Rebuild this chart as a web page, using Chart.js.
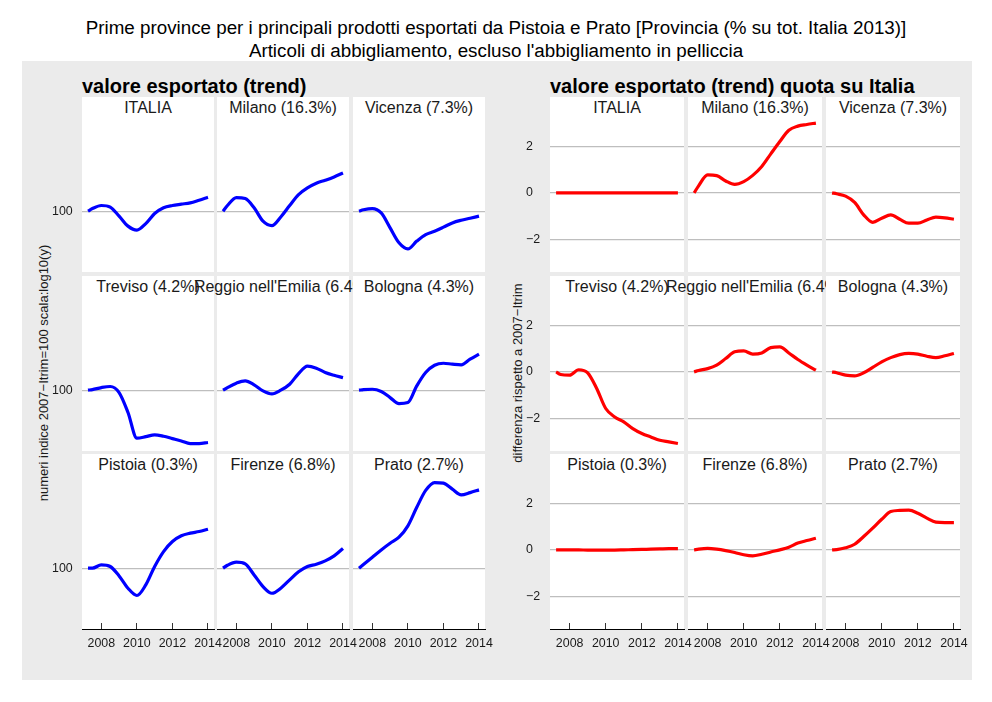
<!DOCTYPE html>
<html><head><meta charset="utf-8">
<script src="https://cdn.jsdelivr.net/npm/chart.js@4.4.1/dist/chart.umd.min.js"></script>
<style>
html,body{margin:0;padding:0;background:#fff;}
#root{position:relative;width:992px;height:702px;overflow:hidden;font-family:"Liberation Sans",Arial,Helvetica,sans-serif;color:#000;}
.bg{position:absolute;left:22px;top:61px;width:950px;height:619px;background:#EBEBEB;}
.title{position:absolute;left:0;width:992px;text-align:center;font-size:18.8px;line-height:19px;white-space:nowrap;}
.sub{position:absolute;font-size:20px;font-weight:bold;line-height:20px;white-space:nowrap;}
.panel{position:absolute;background:#fff;}
.strip{position:absolute;top:3px;left:50%;transform:translateX(-50%);font-size:16px;line-height:16px;white-space:nowrap;color:#1a1a1a;}
.ytitle{position:absolute;font-size:13px;line-height:13px;white-space:nowrap;transform:translate(-50%,-50%) rotate(-90deg);color:#1a1a1a;}
canvas{position:absolute;}
</style></head>
<body><div id="root">
<div class="bg"></div>
<div class="title" style="top:18px">Prime province per i principali prodotti esportati da Pistoia e Prato [Provincia (% su tot. Italia 2013)]</div>
<div class="title" style="top:41px">Articoli di abbigliamento, escluso l'abbigliamento in pelliccia</div>
<div class="sub" style="left:82px;top:76px">valore esportato (trend)</div>
<div class="sub" style="left:550px;top:76px">valore esportato (trend) quota su Italia</div>
<div class="ytitle" style="left:43px;top:373px">numeri indice 2007−Itrim=100 scala:log10(y)</div>
<div class="ytitle" style="left:517px;top:373px">differenza rispetto a 2007−Itrim</div>
</div>
<script>
// ---- data ----
const years = [2007.25, 2007.5, 2008, 2008.5, 2009, 2009.5, 2010, 2010.5, 2011, 2011.5, 2012, 2012.5, 2013, 2013.5, 2014];
const provinces = ["ITALIA", "Milano (16.3%)", "Vicenza (7.3%)", "Treviso (4.2%)", "Reggio nell'Emilia (6.4%)", "Bologna (4.3%)", "Pistoia (0.3%)", "Firenze (6.8%)", "Prato (2.7%)"];
const tickYears = [2008, 2010, 2012, 2014];
const indexTicks = [100];
const diffTicks = [-2, 0, 2];

// valore esportato (trend), numeri indice 2007-Itrim=100
const idxItalia  = [100, 101.7, 103.7, 102.6, 96.9, 90.9, 88.6, 92.4, 98.5, 102.2, 103.7, 104.6, 105.5, 107.3, 109.3];
const idxMilano  = [100, 103.7, 109.1, 108.4, 102.2, 93.8, 91.2, 96.4, 103.7, 111.2, 116.1, 119.6, 121.9, 124.5, 127.7];
const idxVicenza = [100, 100.9, 101.7, 98.9, 89.9, 81.7, 78.6, 82.6, 86.1, 88.0, 90.3, 92.8, 94.4, 95.6, 96.9];
const idxTreviso = [100, 100.4, 101.7, 102.4, 98.5, 86.7, 73.6, 74.3, 75.2, 74.5, 73.4, 72.3, 71.1, 71.1, 71.6];
const idxReggio  = [100, 101.7, 104.6, 106.1, 103.5, 99.6, 97.7, 100, 103.9, 111.2, 116.6, 115.1, 112.0, 110.0, 108.4];
const idxBologna = [100, 100.4, 100.6, 99.2, 95.4, 91.8, 92.4, 102.8, 112.0, 117.3, 118.8, 118.1, 117.6, 121.9, 125.9];
const idxPistoia = [100, 100, 102.2, 101.1, 95.2, 88.0, 84.0, 89.9, 101.1, 111.2, 118.6, 123.0, 125.1, 126.4, 128.3];
const idxFirenze = [100, 101.9, 103.9, 102.8, 95.8, 88.9, 85.2, 88.0, 92.8, 97.7, 101.1, 102.6, 104.8, 108.2, 113.4];
const idxPrato   = [100, 102.4, 107.3, 112.4, 117.3, 121.9, 131.1, 147.6, 164.4, 172.9, 172.2, 165.8, 159.8, 162.1, 165.0];

// quota su Italia, differenza rispetto a 2007-Itrim
const diffItalia  = [0, 0, 0, 0, 0, 0, 0, 0, 0, 0, 0, 0, 0, 0, 0];
const diffMilano  = [0, 0.30, 0.77, 0.74, 0.51, 0.36, 0.48, 0.75, 1.13, 1.67, 2.20, 2.68, 2.86, 2.93, 2.99];
const diffVicenza = [0, -0.04, -0.14, -0.41, -0.94, -1.26, -1.09, -0.94, -1.13, -1.30, -1.30, -1.16, -1.04, -1.07, -1.13];
const diffTreviso = [0, -0.11, -0.14, 0.09, -0.04, -0.71, -1.57, -1.93, -2.14, -2.43, -2.64, -2.79, -2.93, -3.0, -3.07];
const diffReggio  = [0, 0.06, 0.14, 0.29, 0.57, 0.86, 0.90, 0.76, 0.81, 1.04, 1.07, 0.81, 0.53, 0.29, 0.07];
const diffBologna = [0, -0.04, -0.14, -0.17, -0.04, 0.19, 0.43, 0.61, 0.74, 0.79, 0.76, 0.67, 0.61, 0.69, 0.79];
const diffPistoia = [0, 0, 0, 0, -0.01, -0.01, -0.01, -0.01, 0, 0.01, 0.02, 0.03, 0.04, 0.05, 0.05];
const diffFirenze = [0, 0.03, 0.06, 0.03, -0.03, -0.11, -0.21, -0.26, -0.19, -0.09, 0, 0.11, 0.29, 0.40, 0.50];
const diffPrato   = [0, 0.01, 0.09, 0.24, 0.57, 0.93, 1.31, 1.64, 1.69, 1.70, 1.57, 1.36, 1.19, 1.17, 1.17];

const indexSeries = [idxItalia, idxMilano, idxVicenza, idxTreviso, idxReggio, idxBologna, idxPistoia, idxFirenze, idxPrato];
const diffSeries  = [diffItalia, diffMilano, diffVicenza, diffTreviso, diffReggio, diffBologna, diffPistoia, diffFirenze, diffPrato];

// ---- layout ----
const FONT = '"Liberation Sans", Arial, Helvetica, sans-serif';
const xMin = 2006.9125, xMax = 2014.3375;
const rowTops = [117, 296, 474];
const DATA_H = 155, STRIP_H = 20, PADT = 12, PADR = 26, AXIS_H = 34;
const groups = [
  { series: indexSeries, lefts: [82, 217, 353], w: 132, W: 30, color: '#0000FF', type: 'logarithmic', min: 67.8, max: 182.6, ticks: indexTicks,
    fmt: v => String(v) },
  { series: diffSeries, lefts: [550, 688, 826], w: 134, W: 24, color: '#FF0000', type: 'linear', min: -3.39, max: 3.25, ticks: diffTicks,
    fmt: v => (v < 0 ? '\u2212' + Math.abs(v) : String(v)) }
];

const root = document.getElementById('root');

// panels + strips
groups.forEach(g => {
  for (let k = 0; k < 9; k++) {
    const r = Math.floor(k / 3), c = k % 3;
    const p = document.createElement('div');
    p.className = 'panel';
    p.style.left = g.lefts[c] + 'px';
    p.style.top = (rowTops[r] - STRIP_H) + 'px';
    p.style.width = g.w + 'px';
    p.style.height = (DATA_H + STRIP_H) + 'px';
    const s = document.createElement('div');
    s.className = 'strip';
    s.textContent = provinces[k];
    p.appendChild(s);
    root.appendChild(p);
  }
});

// charts
groups.forEach(g => {
  for (let k = 0; k < 9; k++) {
    const r = Math.floor(k / 3), c = k % 3;
    const cv = document.createElement('canvas');
    const last = r === 2;
    const bottomPad = last ? 0 : PADT;
    const cw = g.W + g.w + PADR, ch = PADT + DATA_H + (last ? AXIS_H : PADT);
    cv.width = cw; cv.height = ch;
    cv.style.width = cw + 'px'; cv.style.height = ch + 'px';
    cv.style.left = (g.lefts[c] - g.W) + 'px';
    cv.style.top = (rowTops[r] - PADT) + 'px';
    root.appendChild(cv);
    const vals = g.series[k];
    new Chart(cv, {
      type: 'line',
      data: { datasets: [{
        data: years.map((x, i) => ({ x: x, y: vals[i] })),
        borderColor: g.color, borderWidth: 3.2, pointRadius: 0, fill: false,
        cubicInterpolationMode: 'monotone', borderCapStyle: 'butt'
      }] },
      options: {
        responsive: false, animation: false, devicePixelRatio: 1,
        layout: { padding: { left: 0, right: PADR, top: PADT, bottom: bottomPad } },
        plugins: { legend: { display: false }, tooltip: { enabled: false }, title: { display: false } },
        scales: {
          x: {
            type: 'linear', min: xMin, max: xMax, display: last,
            afterBuildTicks: s => { s.ticks = tickYears.map(v => ({ value: v })); },
            afterFit: s => { s.height = last ? AXIS_H : 0; },
            ticks: { autoSkip: false, maxRotation: 0, minRotation: 0, padding: 13, color: '#1a1a1a',
              font: { family: FONT, size: 12.4 }, callback: v => String(v) },
            grid: { drawOnChartArea: false, drawTicks: true, tickLength: -6, tickColor: '#333', lineWidth: 1, color: 'rgba(0,0,0,0)' },
            border: { display: true, color: '#000', width: 1 }
          },
          y: {
            type: g.type, min: g.min, max: g.max,
            afterBuildTicks: s => { s.ticks = g.ticks.map(v => ({ value: v })); },
            afterFit: s => { s.width = g.W; },
            ticks: { display: c === 0, crossAlign: 'far', color: '#1a1a1a', font: { family: FONT, size: 12.4 }, callback: g.fmt },
            grid: { color: '#BEBEBE', lineWidth: 1.2, drawTicks: false },
            border: { display: false }
          }
        }
      }
    });
  }
});
</script>
</body></html>
